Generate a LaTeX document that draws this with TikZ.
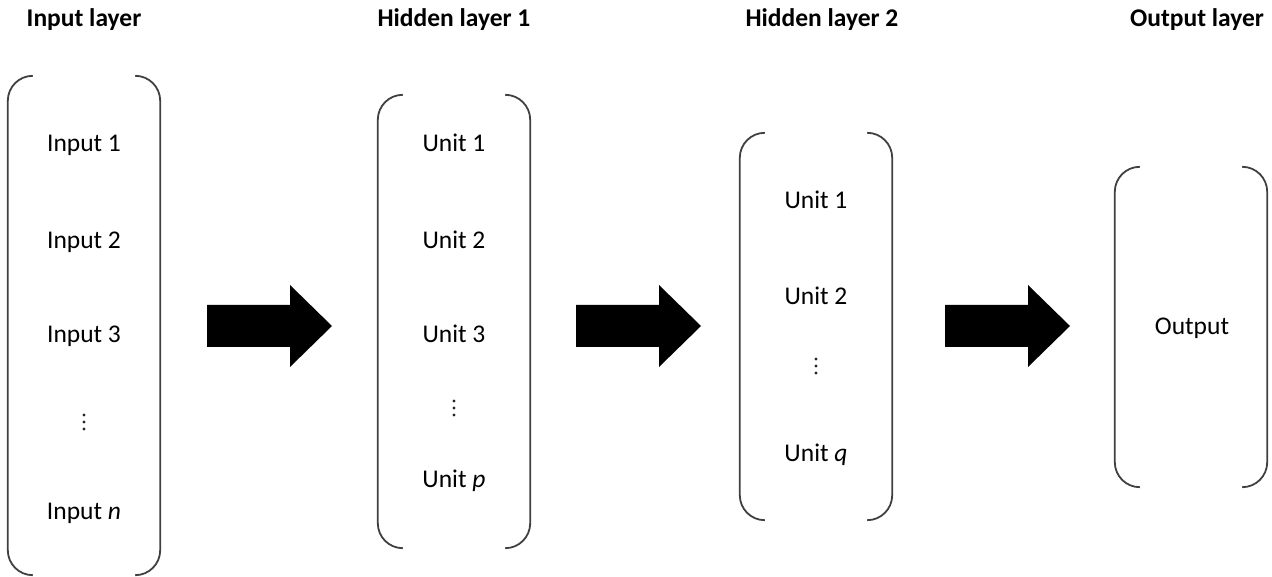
\documentclass[tikz,border=0pt]{standalone}
\usepackage{fontspec}
\setmainfont{Carlito}
\begin{document}
\begin{tikzpicture}[x=1pt,y=-1pt,
  txt/.style={font=\fontsize{25.5}{30}\selectfont, inner sep=0pt, anchor=base},
  title/.style={font=\fontsize{25.5}{30}\selectfont\bfseries, inner sep=0pt, anchor=base},
  dot/.style={circle, fill=black!85, inner sep=0pt, minimum size=3.2pt},
  layer/.style={draw=none, inner sep=0pt, minimum width=152pt},
  brk/.style={draw=black!75, line width=1.8pt, rounded corners=25pt},
  bigarrow/.style={fill=black}]
\useasboundingbox (0,0) rectangle (1272,577);

% layer frames (invisible nodes giving the bracket extents)
\node[layer, minimum height=499pt] (L1) at (84,325.5) {};
\node[layer, minimum height=453pt] (L2) at (454,321.5) {};
\node[layer, minimum height=387pt] (L3) at (816,326.5) {};
\node[layer, minimum height=320pt] (L4) at (1191,327) {};

% round brackets on both sides of each layer
\foreach \L in {L1,L2,L3,L4}{
  \draw[brk] ([xshift=25pt]\L.north west) -- (\L.north west) -- (\L.south west) -- ([xshift=25pt]\L.south west);
  \draw[brk] ([xshift=-25pt]\L.north east) -- (\L.north east) -- (\L.south east) -- ([xshift=-25pt]\L.south east);
}

% titles
\node[title] (t1) at (84,27) {Input layer};
\node[title] (t2) at (454,27) {Hidden layer 1};
\node[title] (t3) at (822,27) {Hidden layer 2};
\node[title] (t4) at (1197,27) {Output layer};

% input layer
\node[txt] (i1) at (84,152) {Input 1};
\node[txt] (i2) at (84,249) {Input 2};
\node[txt] (i3) at (84,343) {Input 3};
\node[txt] (in) at (84,519) {Input \textit{n}};

% hidden layer 1
\node[txt] (h1) at (454,152) {Unit 1};
\node[txt] (h2) at (454,249) {Unit 2};
\node[txt] (h3) at (454,343) {Unit 3};
\node[txt] (hp) at (454,487) {Unit \textit{p}};

% hidden layer 2
\node[txt] (g1) at (816,209) {Unit 1};
\node[txt] (g2) at (816,305) {Unit 2};
\node[txt] (gq) at (816,461) {Unit \textit{q}};

% output layer
\node[txt] (o1) at (1192,335) {Output};

% vertical ellipses
\foreach \n/\x/\y in {id/84/422, hd/454/408, gd/816/366}{
  \node[dot] (\n a) at (\x,\y-7) {};
  \node[dot] (\n b) at (\x,\y) {};
  \node[dot] (\n c) at (\x,\y+7) {};
}

% block arrows between layers
\coordinate (a1) at (207,326);
\coordinate (a2) at (576,326);
\coordinate (a3) at (945,326);
\foreach \A in {a1,a2,a3}{
  \fill[bigarrow] (\A) ++(0,-21) -- ++(83,0) -- ++(0,-20) -- ++(42,41)
     -- ++(-42,41) -- ++(0,-20) -- ++(-83,0) -- cycle;
}
\end{tikzpicture}
\end{document}
